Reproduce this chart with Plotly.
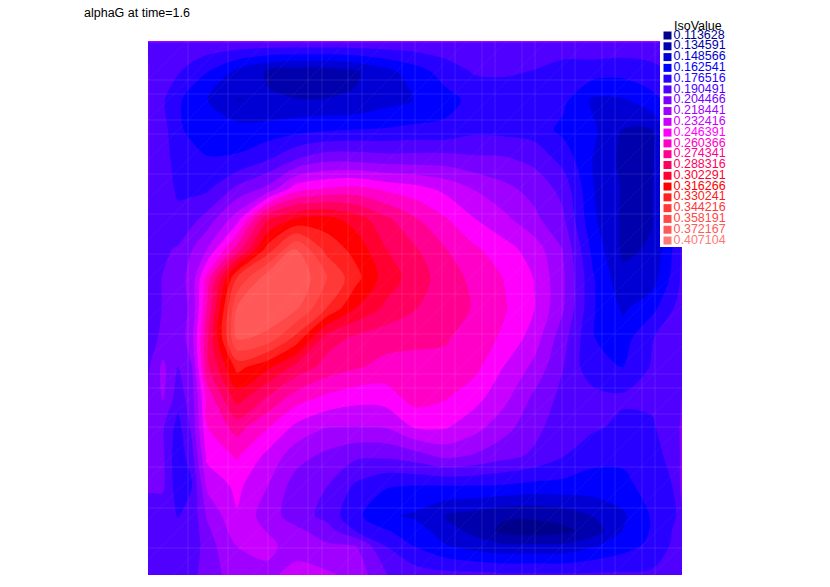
import plotly.graph_objects as go

title_text = "alphaG at time=1.6"
legend_title = "IsoValue"
iso_labels = ["0.113628","0.134591","0.148566","0.162541","0.176516","0.190491","0.204466",
              "0.218441","0.232416","0.246391","0.260366","0.274341","0.288316","0.302291",
              "0.316266","0.330241","0.344216","0.358191","0.372167","0.407104"]
iso_colors = ["#00008c","#0000ac","#0000d4","#0000ff","#2800ff","#5000ff","#7800ff",
              "#a000ff","#c800ff","#ff00ff","#ff00c8","#ff0090","#ff0060","#ff0030",
              "#ff0000","#ff2020","#ff3838","#ff4848","#ff5858","#ff7878"]

xs = [148,150,163,178,192,207,237,267,296,326,356,385,415,445,474,504,534,563,593,623,652,679,682]
ys = [41,43,71,100,130,160,189,219,249,278,308,338,367,397,427,456,486,516,531,545,575]
z_milli = [
[238]*23,
[200]*23,
[215,196,194,192,186,178,160,147,142,142,147,158,170,183,192,193,190,184,184,182,186,194,200],
[222,194,192,180,168,163,148,150,149,149,150,157,163,171,181,181,181,180,160,161,172,186,192],
[222,196,196,179,173,168,168,168,172,175,177,178,180,180,187,186,184,173,165,148,148,185,195],
[222,198,194,187,182,178,179,190,205,215,215,212,212,212,208,207,201,186,162,145,147,175,195],
[215,198,195,189,187,188,208,222,255,262,265,258,252,243,232,222,214,200,163,147,148,178,195],
[205,198,197,193,200,210,240,300,318,322,310,292,276,262,247,236,222,207,165,146,148,178,195],
[200,198,202,206,218,232,280,335,373,340,325,303,290,275,263,252,240,218,172,146,150,185,195],
[198,200,205,212,224,265,345,380,384,360,335,310,296,281,271,260,246,221,178,152,155,188,195],
[198,200,205,210,222,275,373,384,375,345,316,300,289,283,273,262,247,220,178,160,172,195,196],
[198,199,208,208,228,285,375,368,340,296,285,280,276,276,268,258,240,210,177,170,190,197,198],
[200,205,222,204,218,285,335,320,298,283,276,270,272,270,265,246,229,205,180,176,192,198,200],
[207,207,220,197,212,265,310,288,268,258,252,253,267,262,252,237,216,200,196,193,193,200,205],
[207,207,206,185,208,260,280,262,243,233,232,233,248,248,238,224,209,196,193,187,189,200,225],
[207,207,207,180,200,250,262,243,224,215,207,207,212,222,217,209,202,191,181,180,185,198,225],
[207,207,207,182,190,235,250,233,212,205,188,178,176,176,176,175,172,172,170,172,183,193,225],
[196,196,196,190,195,220,245,225,212,200,180,165,160,148,143,137,137,140,149,160,178,192,197],
[196,196,196,195,195,215,240,232,222,212,190,178,170,155,145,130,128,131,140,163,178,195,197],
[196,197,197,195,195,212,233,235,228,220,218,190,175,163,155,150,150,150,160,170,180,196,197],
[197,197,197,197,200,212,225,230,236,235,228,205,198,195,195,193,193,193,193,193,193,195,196],
]
assert all(len(r) == len(xs) for r in z_milli) and len(z_milli) == len(ys)
mesh_x = [188,228,268,308,322,348,362,402,415,442,455,482,495,522,535,562,575,602,615,642,655]
mesh_y = [80,94,120,134,174,214,254,294,334,374,388,414,427,467,508,548]
mesh_diag = [228,268,308,348,388,428,468,508,548,588,628,668,708,748,788,828,868,908,948,988,1028,1068,1108,1148,1188,1228]

W, H = 830, 587
L, R, T, B = 148, 682, 41, 575
z = [[v/1000 for v in r] for r in z_milli]
step = 0.013975
lev0 = 0.134591
n = len(iso_colors)
nc = 18
colorscale = []
for k in range(nc + 1):
    colorscale += [[max(0, (k-0.5)/nc), iso_colors[k]], [min(1, (k+0.5)/nc), iso_colors[k]]]

fig = go.Figure()
fig.add_trace(go.Contour(x=xs, y=ys, z=z, colorscale=colorscale,
    showscale=False, autocontour=False, hoverinfo="skip",
    contours=dict(start=lev0, end=lev0+(nc-1)*step+step/10, size=step, coloring="fill", showlines=False),
    line=dict(width=0, smoothing=0.9)))

mx, my = [], []
for v in mesh_x:
    mx += [v, v, None]; my += [T, B, None]
for v in mesh_y:
    mx += [L, R, None]; my += [v, v, None]
fig.add_trace(go.Scatter(x=mx, y=my, mode="lines", hoverinfo="skip", showlegend=False,
    line=dict(color="rgba(255,255,255,0.1)", width=1)))
dx, dy = [], []
for c in mesh_diag:
    dx += [L, c-T, None]; dy += [c-L, T, None]
fig.add_trace(go.Scatter(x=dx, y=dy, mode="lines", hoverinfo="skip", showlegend=False,
    line=dict(color="rgba(255,255,255,0.045)", width=1)))

# legend panel drawn in page pixel axes
fig.add_trace(go.Scatter(x=[660,728,728,660,660], y=[29,29,247,247,29], xaxis="x2", yaxis="y2",
    mode="lines", fill="toself", fillcolor="white", line=dict(width=0), hoverinfo="skip", showlegend=False))
rows = [35.5 + i*10.79 for i in range(n)]
fig.add_trace(go.Scatter(x=[667.5]*n, y=rows, xaxis="x2", yaxis="y2", mode="markers+text",
    text=iso_labels, textposition="middle right",
    textfont=dict(family="Liberation Sans", size=12.5, color=iso_colors),
    marker=dict(symbol="square", size=8, color=iso_colors, line=dict(width=0)),
    hoverinfo="skip", showlegend=False, cliponaxis=False))

fig.update_layout(
    width=W, height=H, autosize=False, showlegend=False,
    margin=dict(l=0, r=0, t=0, b=0), paper_bgcolor="white", plot_bgcolor="rgba(0,0,0,0)",
    xaxis=dict(domain=[L/W, R/W], range=[L, R], visible=False, anchor="y"),
    yaxis=dict(domain=[1-B/H, 1-T/H], range=[B, T], visible=False, anchor="x"),
    xaxis2=dict(domain=[0, 1], range=[0, W], visible=False, anchor="y2"),
    yaxis2=dict(domain=[0, 1], range=[H, 0], visible=False, anchor="x2"),
    annotations=[
        dict(text=title_text, xref="x2", yref="y2", x=81.5, y=13, xanchor="left", yanchor="middle",
             showarrow=False, font=dict(family="Liberation Sans", size=12.5, color="black")),
        dict(text=legend_title, xref="x2", yref="y2", x=698, y=25.5, xanchor="center", yanchor="middle",
             showarrow=False, font=dict(family="Liberation Sans", size=12.5, color="black")),
    ],
)
fig.write_html("out.html", post_script="document.body.style.margin='0';", config={"displayModeBar": False})
